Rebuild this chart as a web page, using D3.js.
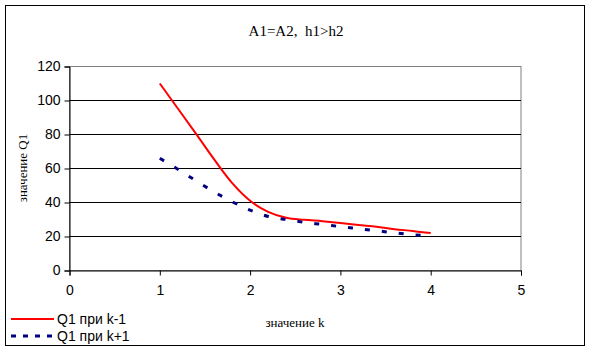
<!DOCTYPE html>
<html>
<head>
<meta charset="utf-8">
<script src="https://cdn.jsdelivr.net/npm/d3@7"></script>
<style>
  body { margin: 0; background: #fff; }
  svg { display: block; }
</style>
</head>
<body>
<svg width="590" height="352"></svg>
<script>
const svg = d3.select('svg');

const kValues = [1.0, 1.2, 1.4, 1.6, 1.8, 2.0, 2.2, 2.4, 2.6, 2.8, 3.0, 3.2, 3.4, 3.6, 3.8, 4.0];
const qMinus = [110, 95.3, 80.5, 65.5, 51.5, 41, 34.5, 31, 29.8, 29, 28, 26.8, 25.8, 24.3, 23.3, 22];
const qPlus = [66, 59.6, 52.8, 46.3, 40.5, 35.5, 31.8, 30, 28.3, 27.1, 25.8, 24.6, 23.4, 22.2, 21.1, 20.2];
const xTicks = [0, 1, 2, 3, 4, 5];
const yTicks = [0, 20, 40, 60, 80, 100, 120];
const seriesNames = ['Q1 при k-1', 'Q1 при k+1'];

const margin = {left: 69.5, top: 66.5, right: 521, bottom: 270.5};
const innerWidth = margin.right - margin.left;
const innerHeight = margin.bottom - margin.top;

// outer frame
svg.append('rect')
    .attr('x', 5.5).attr('y', 5.5)
    .attr('width', 579).attr('height', 340)
    .attr('fill', 'none').attr('stroke', '#000').attr('stroke-width', 1);

svg.append('text')
    .attr('x', 296).attr('y', 36)
    .attr('text-anchor', 'middle')
    .style('font-family', '"Liberation Serif", "Times New Roman", serif')
    .style('font-size', '15px')
    .style('white-space', 'pre')
    .text('A1=A2,  h1>h2');

const xScale = d3.scaleLinear().domain([0, 5]).range([0, innerWidth]);
const yScale = d3.scaleLinear().domain([0, 120]).range([innerHeight, 0]);

const g = svg.append('g')
    .attr('transform', `translate(${margin.left}, ${margin.top})`);

// plot border (top/right grey)
g.append('rect')
    .attr('width', innerWidth).attr('height', innerHeight)
    .attr('fill', 'none').attr('stroke', '#808080');

// grid lines
g.selectAll('.grid').data(yTicks.filter(v => v > 0 && v < 120))
    .enter().append('line')
    .attr('x1', 0).attr('x2', innerWidth)
    .attr('y1', d => yScale(d)).attr('y2', d => yScale(d))
    .attr('stroke', '#000');

const tickFont = 'Arial, "Liberation Sans", sans-serif';

const yAxis = d3.axisLeft(yScale).tickValues(yTicks).tickSize(5).tickPadding(4);
const yAxisG = g.append('g').call(yAxis);
yAxisG.selectAll('text').style('font-family', tickFont).style('font-size', '14px').attr('fill', '#000');
yAxisG.select('.domain').attr('stroke', '#000');

const xAxis = d3.axisBottom(xScale).tickValues(xTicks).tickFormat(d3.format('d')).tickSize(5).tickPadding(10);
const xAxisG = g.append('g').attr('transform', `translate(0, ${innerHeight})`).call(xAxis);
xAxisG.selectAll('text').style('font-family', tickFont).style('font-size', '14px').attr('fill', '#000');
xAxisG.select('.domain').attr('stroke', '#000');

// axis titles
svg.append('text')
    .attr('transform', 'translate(27, 168) rotate(-90)')
    .attr('text-anchor', 'middle')
    .style('font-family', '"Liberation Serif", "Times New Roman", serif')
    .style('font-size', '13px')
    .text('значение Q1');

svg.append('text')
    .attr('x', 295).attr('y', 327)
    .attr('text-anchor', 'middle')
    .style('font-family', '"Liberation Serif", "Times New Roman", serif')
    .style('font-size', '13px')
    .text('значение k');

const line = d3.line()
    .x(d => xScale(d[0]))
    .y(d => yScale(d[1]))
    .curve(d3.curveMonotoneX);

g.append('path')
    .datum(kValues.map((k, i) => [k, qMinus[i]]))
    .attr('d', line)
    .attr('fill', 'none')
    .attr('stroke', '#ff0000')
    .attr('stroke-width', 2);

g.append('path')
    .datum(kValues.map((k, i) => [k, qPlus[i]]))
    .attr('d', line)
    .attr('fill', 'none')
    .attr('stroke', '#000080')
    .attr('stroke-width', 3)
    .attr('stroke-dasharray', '5,12');

// legend
const legend = svg.append('g');
const legendItems = [
    {name: seriesNames[0], color: '#ff0000', width: 2, dash: null, y: 319},
    {name: seriesNames[1], color: '#000080', width: 3, dash: '5,7', y: 336}
];
legendItems.forEach(item => {
    legend.append('line')
        .attr('x1', 11).attr('x2', 54)
        .attr('y1', item.y).attr('y2', item.y)
        .attr('stroke', item.color)
        .attr('stroke-width', item.width)
        .attr('stroke-dasharray', item.dash);
    legend.append('text')
        .attr('x', 57).attr('y', item.y + 5)
        .style('font-family', tickFont)
        .style('font-size', '14px')
        .text(item.name);
});
</script>
</body>
</html>
